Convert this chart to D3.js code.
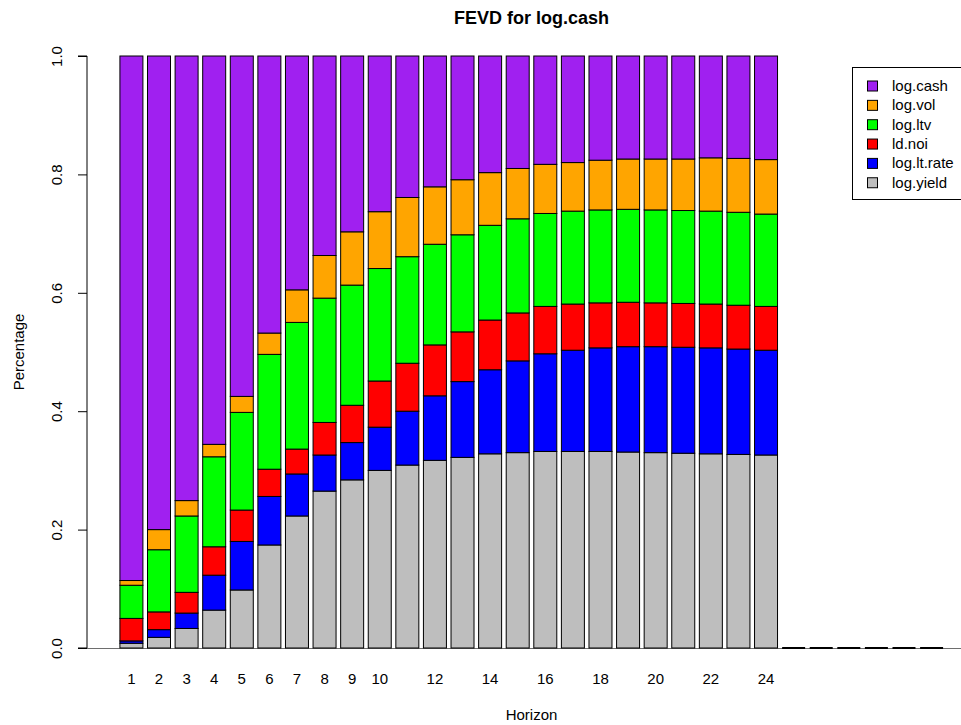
<!DOCTYPE html>
<html>
<head>
<meta charset="utf-8">
<script src="https://cdn.jsdelivr.net/npm/d3@7"></script>
<style>
  html, body { margin: 0; padding: 0; background: #fff; overflow: hidden; }
  svg { display: block; font-family: "Liberation Sans", Arial, Helvetica, sans-serif; }
</style>
</head>
<body>
<svg id="chart" width="961" height="725"></svg>
<script>
// Forecast error variance decomposition for log.cash, horizons 1..24
const horizons = ["1","2","3","4","5","6","7","8","9","10","11","12",
                  "13","14","15","16","17","18","19","20","21","22","23","24"];
// Empty columns appended after the horizons to leave room for the legend
const spacerColumns = ["e1","e2","e3","e4","e5","e6"];
const tickLabels = ["1","2","3","4","5","6","7","8","9","10","12","14","16","18","20","22","24"];
const yTicks = [0, 0.2, 0.4, 0.6, 0.8, 1.0];

const logYield  = [0.008, 0.018, 0.033, 0.064, 0.098, 0.174, 0.223, 0.265, 0.284, 0.300, 0.309, 0.317,
                   0.322, 0.328, 0.330, 0.332, 0.332, 0.332, 0.331, 0.330, 0.329, 0.328, 0.327, 0.326];
const logLtRate = [0.004, 0.013, 0.026, 0.059, 0.082, 0.082, 0.071, 0.061, 0.063, 0.073, 0.091, 0.109,
                   0.128, 0.142, 0.155, 0.165, 0.171, 0.175, 0.178, 0.179, 0.179, 0.179, 0.178, 0.177];
const ldNoi     = [0.038, 0.030, 0.035, 0.048, 0.053, 0.046, 0.042, 0.055, 0.063, 0.078, 0.081, 0.086,
                   0.084, 0.084, 0.081, 0.080, 0.078, 0.076, 0.075, 0.074, 0.074, 0.074, 0.074, 0.074];
const logLtv    = [0.056, 0.105, 0.129, 0.152, 0.165, 0.194, 0.214, 0.210, 0.203, 0.190, 0.180, 0.170,
                   0.164, 0.160, 0.159, 0.157, 0.157, 0.157, 0.157, 0.157, 0.157, 0.157, 0.157, 0.156];
const logVol    = [0.008, 0.034, 0.026, 0.021, 0.027, 0.036, 0.055, 0.072, 0.090, 0.096, 0.100, 0.097,
                   0.093, 0.089, 0.085, 0.083, 0.082, 0.084, 0.085, 0.086, 0.087, 0.090, 0.091, 0.092];
const logCash   = [0.886, 0.800, 0.751, 0.656, 0.575, 0.468, 0.395, 0.337, 0.297, 0.263, 0.239, 0.221,
                   0.209, 0.197, 0.190, 0.183, 0.180, 0.176, 0.174, 0.174, 0.174, 0.172, 0.173, 0.175];

// Series from the bottom of each stack to the top
const seriesNames  = ["log.yield", "log.lt.rate", "ld.noi", "log.ltv", "log.vol", "log.cash"];
const seriesValues = [logYield, logLtRate, ldNoi, logLtv, logVol, logCash];
const seriesColors = ["#BEBEBE", "#0000FF", "#FF0000", "#00FF00", "#FFA500", "#A020F0"];

const rows = horizons.map((h, i) => {
  const r = { horizon: h };
  seriesNames.forEach((s, j) => { r[s] = seriesValues[j][i]; });
  return r;
});

const svg = d3.select("#chart");
const W = 961, H = 725;
const plot = { left: 87, right: 976, top: 56, bottom: 648 };

const x = d3.scaleBand()
  .domain(horizons.concat(spacerColumns))
  .range([plot.left, plot.right])
  .paddingInner(1 / 6)
  .paddingOuter(1.193);

const y = d3.scaleLinear().domain([0, 1]).range([plot.bottom, plot.top]);

const stacked = d3.stack().keys(seriesNames)(rows);
const color = d3.scaleOrdinal().domain(seriesNames).range(seriesColors);

// Baseline across the plot region
svg.append("line")
  .attr("x1", plot.left).attr("x2", W)
  .attr("y1", y(0) + 0.5).attr("y2", y(0) + 0.5)
  .attr("stroke", "#6e6e6e").attr("stroke-width", 1);

// Stacked bars
const layers = svg.append("g").selectAll("g")
  .data(stacked)
  .join("g")
  .attr("fill", d => color(d.key));

layers.selectAll("rect")
  .data(d => d)
  .join("rect")
  .attr("x", d => x(d.data.horizon))
  .attr("y", d => y(d[1]))
  .attr("width", x.bandwidth())
  .attr("height", d => y(d[0]) - y(d[1]))
  .attr("stroke", "#000")
  .attr("stroke-width", 1);

// Empty columns have zero height and show only as their outline
svg.append("g").selectAll("line")
  .data(spacerColumns)
  .join("line")
  .attr("x1", d => x(d)).attr("x2", d => x(d) + x.bandwidth())
  .attr("y1", y(0)).attr("y2", y(0))
  .attr("stroke", "#000").attr("stroke-width", 2);

// Y axis
const yAxis = d3.axisLeft(y)
  .tickValues(yTicks)
  .tickFormat(d3.format(".1f"))
  .tickSize(9)
  .tickPadding(0);

const gy = svg.append("g")
  .attr("transform", `translate(${plot.left},0)`)
  .call(yAxis);
gy.select(".domain").attr("d", `M-9,${y(0)}H0V${y(1)}H-9`).attr("stroke", "#000");
gy.selectAll(".tick line").remove();
gy.selectAll(".tick")
  .append("line").attr("x1", -9).attr("x2", 0).attr("stroke", "#000");
gy.selectAll(".tick text")
  .attr("transform", "rotate(-90)")
  .attr("x", 0).attr("y", -25)
  .attr("dy", 0)
  .attr("text-anchor", "middle")
  .attr("font-size", 15)
  .attr("font-family", "Liberation Sans, Arial, sans-serif")
  .attr("fill", "#000");

// X labels (names under the bars)
const xAxis = d3.axisBottom(x)
  .tickValues(tickLabels)
  .tickSize(0)
  .tickPadding(0);
const gx = svg.append("g")
  .attr("transform", `translate(0,${plot.bottom})`)
  .call(xAxis);
gx.select(".domain").remove();
gx.selectAll(".tick text")
  .attr("y", 36).attr("dy", 0)
  .attr("font-size", 15)
  .attr("font-family", "Liberation Sans, Arial, sans-serif")
  .attr("fill", "#000");

// Titles
svg.append("text")
  .attr("x", (plot.left + plot.right) / 2).attr("y", 24)
  .attr("text-anchor", "middle")
  .attr("font-size", 18).attr("font-weight", "bold")
  .text("FEVD for log.cash");

svg.append("text")
  .attr("x", (plot.left + plot.right) / 2).attr("y", 720)
  .attr("text-anchor", "middle")
  .attr("font-size", 15)
  .text("Horizon");

svg.append("text")
  .attr("transform", `translate(24,${(plot.top + plot.bottom) / 2}) rotate(-90)`)
  .attr("text-anchor", "middle")
  .attr("font-size", 15)
  .text("Percentage");

// Legend, top entry first
const legendOrder = seriesNames.slice().reverse();
const legend = svg.append("g");
legend.append("rect")
  .attr("x", 852.5).attr("y", 67.5)
  .attr("width", 130).attr("height", 132)
  .attr("fill", "#fff").attr("stroke", "#000");

const item = legend.selectAll("g.item")
  .data(legendOrder)
  .join("g")
  .attr("class", "item")
  .attr("transform", (d, i) => `translate(0,${86 + i * 19.35})`);

item.append("rect")
  .attr("x", 867.5).attr("y", -5)
  .attr("width", 10).attr("height", 10)
  .attr("fill", d => color(d))
  .attr("stroke", "#000");

item.append("text")
  .attr("x", 892).attr("y", 5)
  .attr("font-size", 15)
  .text(d => d);
</script>
</body>
</html>
